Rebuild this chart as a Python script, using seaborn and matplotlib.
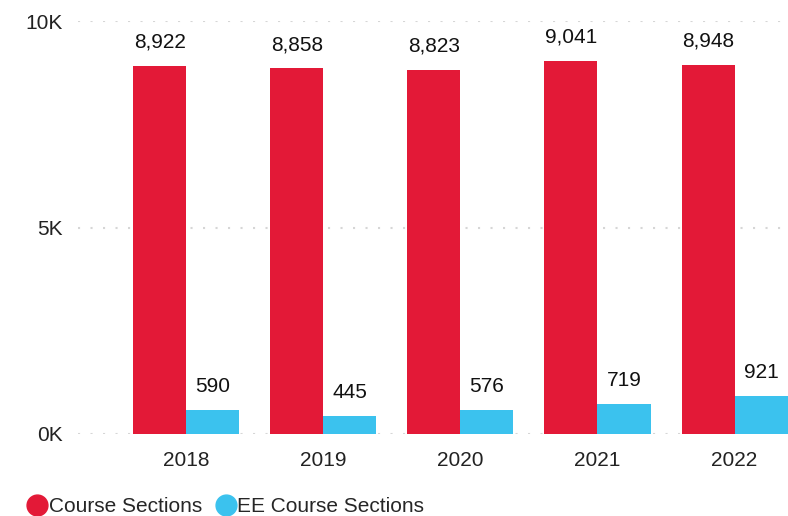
import matplotlib
matplotlib.use("Agg")
import matplotlib.pyplot as plt
from matplotlib.lines import Line2D
from matplotlib.ticker import FuncFormatter
import seaborn as sns
import pandas as pd

years = ["2018", "2019", "2020", "2021", "2022"]
course_sections = [8922, 8858, 8823, 9041, 8948]
ee_course_sections = [590, 445, 576, 719, 921]
series_names = ["Course Sections", "EE Course Sections"]
colors = ["#E31937", "#3BC2EE"]

df = pd.DataFrame({
    "Year": years * 2,
    "Sections": course_sections + ee_course_sections,
    "Series": [series_names[0]] * len(years) + [series_names[1]] * len(years),
})

sns.set_theme(style="white")
plt.rcParams["font.family"] = ["Liberation Sans", "DejaVu Sans"]

fig = plt.figure(figsize=(7.88, 5.16), dpi=100)
ax = fig.add_axes([0.099, 0.159, 0.901, 0.800])

sns.barplot(data=df, x="Year", y="Sections", hue="Series", palette=colors,
            width=0.774, gap=0, saturation=1, ax=ax, legend=False, errorbar=None,
            linewidth=0)

for container in ax.containers:
    ax.bar_label(container, labels=[f"{v:,.0f}" for v in container.datavalues],
                 padding=10, fontsize=15, color="#111111")

ax.set_ylim(0, 10000)
ax.set_xlim(-0.79, 4.39)
ax.set_yticks([0, 5000, 10000])
ax.yaxis.set_major_formatter(FuncFormatter(lambda v, _: f"{v/1000:.0f}K"))
ax.grid(axis="y", color="#D6D6D6", linestyle=(0, (1, 5)), linewidth=1.5)
ax.set_axisbelow(True)
for s in ax.spines.values():
    s.set_visible(False)
ax.tick_params(axis="both", length=0, labelsize=15, colors="#222222")
ax.tick_params(axis="x", pad=12)
ax.tick_params(axis="y", pad=11)
ax.set_xlabel("")
ax.set_ylabel("")

handles = [Line2D([0], [0], marker="o", linestyle="", markersize=15,
                  markerfacecolor=c, markeredgecolor=c) for c in colors]
fig.legend(handles, series_names, loc="lower left", bbox_to_anchor=(0.014, -0.028),
           ncol=2, frameon=False, fontsize=15, handletextpad=0.0,
           columnspacing=0.6, handlelength=1.1, borderaxespad=0.3)

fig.savefig("out.png", dpi=100)
